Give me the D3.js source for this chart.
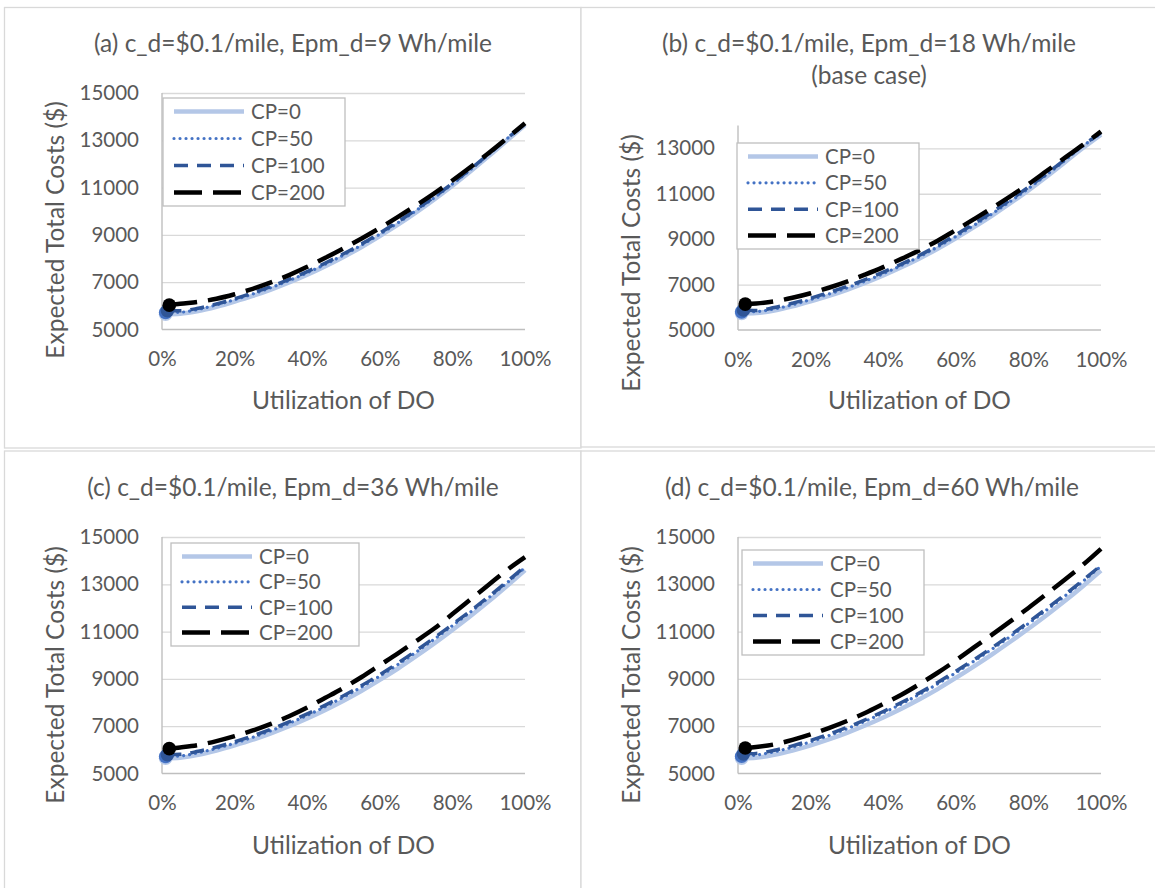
<!DOCTYPE html>
<html>
<head>
<meta charset="utf-8">
<script src="https://cdn.jsdelivr.net/npm/d3@7"></script>
<style>
  html, body { margin: 0; padding: 0; background: #ffffff; }
  svg { display: block; font-family: Lato, "Open Sans", sans-serif; }
</style>
</head>
<body>
<svg id="fig" width="1155" height="888"></svg>
<script>
// ---- data -------------------------------------------------------------
const seriesNames = ["CP=0", "CP=50", "CP=100", "CP=200"];
// utilization of the first (optimal) point of each series
const startUtil = [0.01, 0.01, 0.015, 0.02];
// utilization of the remaining points
const utilization = [0.05, 0.10, 0.15, 0.20, 0.25, 0.30, 0.35, 0.40, 0.45, 0.50,
                     0.55, 0.60, 0.65, 0.70, 0.75, 0.80, 0.85, 0.90, 0.95, 1.00];

const xTickValues = [0, 0.2, 0.4, 0.6, 0.8, 1.0];
const yTicksFull = [5000, 7000, 9000, 11000, 13000, 15000];
const yTicksBase = [5000, 7000, 9000, 11000, 13000];

const panelTitles = [
  ["(a) c_d=$0.1/mile, Epm_d=9 Wh/mile"],
  ["(b) c_d=$0.1/mile, Epm_d=18 Wh/mile", "(base case)"],
  ["(c) c_d=$0.1/mile, Epm_d=36 Wh/mile"],
  ["(d) c_d=$0.1/mile, Epm_d=60 Wh/mile"]
];
const xAxisTitle = "Utilization of DO";
const yAxisTitle = "Expected Total Costs ($)";

// (a) Epm_d = 9 Wh/mile
const costA_CP0   = [5650, 5670, 5780, 5960, 6180, 6420, 6690, 6990, 7320, 7680, 8070, 8490, 8950, 9430, 9950, 10500, 11080, 11690, 12330, 12990, 13650];
const costA_CP50  = [5720, 5730, 5850, 6040, 6260, 6500, 6770, 7070, 7400, 7760, 8150, 8570, 9030, 9510, 10030, 10570, 11150, 11760, 12400, 13060, 13680];
const costA_CP100 = [5800, 5790, 5900, 6080, 6300, 6550, 6820, 7120, 7450, 7810, 8200, 8620, 9080, 9560, 10070, 10610, 11180, 11790, 12420, 13070, 13700];
const costA_CP200 = [6030, 6090, 6170, 6300, 6490, 6720, 6990, 7300, 7650, 8030, 8430, 8850, 9290, 9760, 10250, 10760, 11300, 11870, 12460, 13080, 13720];

// (b) Epm_d = 18 Wh/mile (base case)
const costB_CP0   = [5730, 5750, 5860, 6040, 6260, 6500, 6770, 7070, 7400, 7760, 8150, 8580, 9040, 9530, 10040, 10580, 11150, 11750, 12380, 13010, 13600];
const costB_CP50  = [5800, 5810, 5930, 6110, 6340, 6580, 6850, 7150, 7480, 7840, 8230, 8660, 9120, 9610, 10120, 10660, 11230, 11830, 12460, 13100, 13650];
const costB_CP100 = [5880, 5860, 5990, 6180, 6400, 6650, 6920, 7220, 7550, 7900, 8290, 8720, 9190, 9680, 10190, 10730, 11290, 11880, 12500, 13130, 13680];
const costB_CP200 = [6140, 6170, 6260, 6420, 6620, 6860, 7130, 7440, 7770, 8130, 8510, 8930, 9400, 9880, 10370, 10880, 11420, 12000, 12580, 13150, 13740];

// (c) Epm_d = 36 Wh/mile
const costC_CP0   = [5650, 5670, 5790, 5970, 6190, 6430, 6700, 7000, 7330, 7690, 8080, 8500, 8960, 9440, 9960, 10500, 11070, 11660, 12280, 12930, 13600];
const costC_CP50  = [5720, 5740, 5880, 6060, 6280, 6530, 6810, 7120, 7460, 7830, 8230, 8660, 9120, 9610, 10130, 10680, 11250, 11830, 12430, 13060, 13710];
const costC_CP100 = [5800, 5810, 5940, 6120, 6340, 6590, 6870, 7180, 7520, 7890, 8290, 8720, 9180, 9670, 10190, 10740, 11300, 11880, 12480, 13110, 13760];
const costC_CP200 = [6050, 6100, 6200, 6370, 6580, 6820, 7100, 7420, 7790, 8200, 8620, 9080, 9580, 10080, 10600, 11130, 11740, 12360, 12980, 13600, 14150];

// (d) Epm_d = 60 Wh/mile
const costD_CP0   = [5650, 5670, 5790, 5970, 6190, 6440, 6720, 7030, 7370, 7740, 8140, 8570, 9040, 9530, 10040, 10570, 11120, 11690, 12290, 12920, 13580];
const costD_CP50  = [5730, 5780, 5920, 6110, 6340, 6600, 6890, 7210, 7560, 7940, 8350, 8790, 9260, 9750, 10260, 10790, 11340, 11910, 12500, 13120, 13770];
const costD_CP100 = [5830, 5850, 5980, 6170, 6400, 6660, 6950, 7270, 7620, 8000, 8410, 8850, 9320, 9810, 10320, 10850, 11400, 11970, 12560, 13170, 13800];
const costD_CP200 = [6080, 6120, 6230, 6420, 6650, 6920, 7220, 7560, 7940, 8330, 8780, 9260, 9780, 10330, 10870, 11430, 12000, 12590, 13190, 13820, 14500];

const panelCosts = [
  [costA_CP0, costA_CP50, costA_CP100, costA_CP200],
  [costB_CP0, costB_CP50, costB_CP100, costB_CP200],
  [costC_CP0, costC_CP50, costC_CP100, costC_CP200],
  [costD_CP0, costD_CP50, costD_CP100, costD_CP200]
];
const panelYMax = [15000, 14000, 15000, 15000];
const panelYTicks = [yTicksFull, yTicksBase, yTicksFull, yTicksFull];

// ---- layout & style ---------------------------------------------------
const layout = [
  { frame: [4.5, 7.5, 581, 448],  plot: [162, 93, 525, 329.5],  titleX: 293,  titleY: 52,
    legend: [163, 98, 182, 108],  xTitleY: 400,   yTitleX: 55.5,  yTitleY: 230 },
  { frame: [581, 7.5, 1170, 447], plot: [738, 125.6, 1101, 330], titleX: 869, titleY: 52,
    legend: [737, 143, 182, 106], xTitleY: 400,   yTitleX: 631.5, yTitleY: 263 },
  { frame: [4.5, 451, 581, 900],  plot: [162, 537, 525, 773.5],  titleX: 293,  titleY: 496,
    legend: [171, 543, 188, 103], xTitleY: 845,   yTitleX: 55.5,  yTitleY: 675 },
  { frame: [581, 451, 1170, 900], plot: [738, 537, 1101, 773.5], titleX: 872,  titleY: 496,
    legend: [742, 550, 182, 105], xTitleY: 845,   yTitleX: 631.5, yTitleY: 675 }
];

const seriesStyle = [
  { color: "#b4c7e7", width: 4.5, dash: null,      cap: "butt"  },
  { color: "#4472c4", width: 3.2, dash: "0.01,6",  cap: "round" },
  { color: "#2f5597", width: 3.5, dash: "14,9",    cap: "butt"  },
  { color: "#000000", width: 4.5, dash: "28,11",   cap: "butt"  }
];

const textColor = "#595959";
const tickFont = 20.5, titleFont = 24.5;

const svg = d3.select("#fig");

layout.forEach((L, p) => {
  const g = svg.append("g");
  const [fx0, fy0, fx1, fy1] = L.frame;
  g.append("rect")
    .attr("x", fx0).attr("y", fy0).attr("width", fx1 - fx0).attr("height", fy1 - fy0)
    .attr("fill", "#ffffff").attr("stroke", "#d9d9d9").attr("stroke-width", 1.3);

  const [px0, py0, px1, py1] = L.plot;
  const x = d3.scaleLinear().domain([0, 1]).range([px0, px1]);
  const y = d3.scaleLinear().domain([5000, panelYMax[p]]).range([py1, py0]);
  const yTicks = panelYTicks[p];

  // horizontal gridlines
  g.append("g")
    .attr("transform", `translate(${px0},0)`)
    .call(d3.axisLeft(y).tickValues(yTicks.filter(v => v > 5000)).tickSize(-(px1 - px0)).tickFormat(""))
    .call(a => a.select(".domain").remove())
    .call(a => a.selectAll("line").attr("stroke", "#d9d9d9").attr("stroke-width", 1.3));

  // y tick labels
  g.append("g")
    .attr("transform", `translate(${px0 - 23},0)`)
    .call(d3.axisLeft(y).tickValues(yTicks).tickSize(0).tickPadding(0).tickFormat(d3.format("d")))
    .call(a => a.select(".domain").remove())
    .call(a => a.selectAll("text")
      .attr("fill", textColor).attr("font-size", tickFont)
      .attr("font-family", "Lato, 'Open Sans', sans-serif"));

  // x tick labels
  g.append("g")
    .attr("transform", `translate(0,${py1 + 22})`)
    .call(d3.axisBottom(x).tickValues(xTickValues).tickSize(0).tickPadding(0).tickFormat(d3.format(".0%")))
    .call(a => a.select(".domain").remove())
    .call(a => a.selectAll("text")
      .attr("fill", textColor).attr("font-size", tickFont)
      .attr("font-family", "Lato, 'Open Sans', sans-serif"));

  // axis lines
  g.append("line").attr("x1", px0).attr("x2", px0).attr("y1", py0).attr("y2", py1)
    .attr("stroke", "#bfbfbf").attr("stroke-width", 1.4);
  g.append("line").attr("x1", px0).attr("x2", px1).attr("y1", py1).attr("y2", py1)
    .attr("stroke", "#bfbfbf").attr("stroke-width", 1.4);

  // series lines
  const line = d3.line().x(d => x(d[0])).y(d => y(d[1])).curve(d3.curveMonotoneX);
  panelCosts[p].forEach((costs, s) => {
    const pts = costs.map((c, i) => [i === 0 ? startUtil[s] : utilization[i - 1], c]);
    const st = seriesStyle[s];
    g.append("path")
      .attr("d", line(pts))
      .attr("fill", "none")
      .attr("stroke", st.color)
      .attr("stroke-width", st.width)
      .attr("stroke-dasharray", st.dash)
      .attr("stroke-linecap", st.cap)
      .attr("stroke-linejoin", "round");
  });
  // marker on the first point of each series
  panelCosts[p].forEach((costs, s) => {
    g.append("circle")
      .attr("cx", x(startUtil[s])).attr("cy", y(costs[0])).attr("r", 6.8)
      .attr("fill", seriesStyle[s].color);
  });

  // legend
  const [lx, ly, lw, lh] = L.legend;
  const lg = g.append("g");
  lg.append("rect").attr("x", lx).attr("y", ly).attr("width", lw).attr("height", lh)
    .attr("fill", "#ffffff").attr("stroke", "#bfbfbf").attr("stroke-width", 1.3);
  const rowH = (lh - 27) / 3;
  seriesNames.forEach((name, s) => {
    const ry = ly + 13.5 + s * rowH;
    const st = seriesStyle[s];
    lg.append("line")
      .attr("x1", lx + 11).attr("x2", lx + 81).attr("y1", ry).attr("y2", ry)
      .attr("stroke", st.color).attr("stroke-width", st.width)
      .attr("stroke-dasharray", st.dash).attr("stroke-linecap", st.cap);
    lg.append("text")
      .attr("x", lx + 88).attr("y", ry).attr("dy", "0.36em")
      .attr("fill", textColor).attr("font-size", tickFont)
      .text(name);
  });

  // chart title
  panelTitles[p].forEach((t, k) => {
    g.append("text")
      .attr("x", L.titleX).attr("y", L.titleY + k * 31.5)
      .attr("text-anchor", "middle").attr("fill", textColor).attr("font-size", titleFont)
      .text(t);
  });

  // axis titles
  g.append("text")
    .attr("x", (px0 + px1) / 2).attr("y", L.xTitleY).attr("dy", "0.36em")
    .attr("text-anchor", "middle").attr("fill", textColor).attr("font-size", titleFont)
    .text(xAxisTitle);
  g.append("text")
    .attr("transform", `translate(${L.yTitleX},${L.yTitleY}) rotate(-90)`)
    .attr("dy", "0.36em")
    .attr("text-anchor", "middle").attr("fill", textColor).attr("font-size", titleFont)
    .text(yAxisTitle);
});
</script>
</body>
</html>
